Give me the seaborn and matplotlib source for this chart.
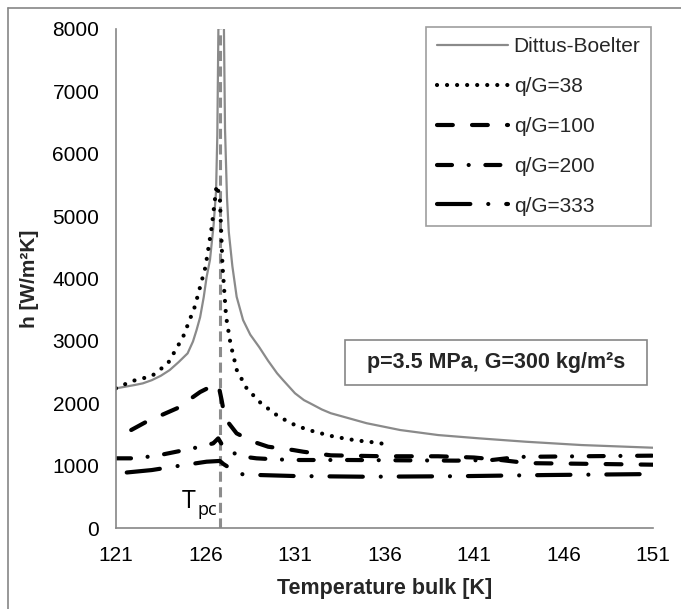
import matplotlib
matplotlib.use("Agg")
import matplotlib.pyplot as plt
from matplotlib.lines import Line2D
from matplotlib.patches import Rectangle
import seaborn as sns
import pandas as pd

# ---------------- data ----------------
db_T = [121.0, 122.0, 122.5, 123.0, 123.5, 124.0, 124.5, 125.0, 125.3, 125.5, 125.7, 125.9,
        126.06, 126.25, 126.45, 126.59, 126.66, 126.72, 126.86,
        127.03, 127.09, 127.2, 127.3, 127.5, 127.74, 128.1, 128.5, 129.0, 129.5, 130.0,
        130.33, 131.0, 131.5, 131.84, 132.5, 133.0, 133.7, 135.0, 136.87, 139.0, 141.3,
        143.9, 147.0, 151.0]
db_h = [2239, 2290, 2319, 2370, 2440, 2532, 2660, 2800, 2990, 3173, 3380, 3700,
        4020, 4300, 4850, 5400, 6300, 8000, 20000,
        8000, 6400, 5300, 4750, 4200, 3707, 3333, 3100, 2900, 2680, 2480,
        2372, 2160, 2050, 2000, 1900, 1840, 1784, 1680, 1571, 1490, 1437,
        1383, 1330, 1287]

q38_T = [121.0, 121.9, 123.0, 123.9, 124.75, 125.4, 126.0, 126.35, 126.62, 126.8, 126.95, 127.15,
         127.4, 127.75, 128.3, 129.1, 130.1, 131.1, 132.1, 133.2, 134.4, 135.6, 136.2]
q38_h = [2240, 2356, 2436, 2639, 3066, 3547, 4188, 4829, 5497, 5310, 4200, 3387,
         2950, 2532, 2239, 2000, 1784, 1635, 1543, 1463, 1405, 1367, 1335]

q100_T = [121.85, 122.7, 124.4, 125.7, 126.25, 126.72, 126.9, 127.09, 127.74, 128.67, 129.5, 130.9,
          131.46, 133.0, 136.0, 139.0, 141.0, 142.5, 144.0, 147.0, 151.0]
q100_h = [1571, 1704, 1918, 2180, 2260, 2300, 2051, 1757, 1517, 1383, 1303, 1250,
          1223, 1165, 1150, 1150, 1130, 1090, 1040, 1030, 1015]

q200_T = [121.0, 122.15, 123.46, 125.3, 126.43, 126.71, 126.9, 127.83, 128.85, 129.88, 131.0,
          134.0, 137.0, 140.0, 142.0, 143.5, 147.0, 151.0]
q200_h = [1117, 1117, 1170, 1277, 1357, 1437, 1346, 1154, 1117, 1101, 1090,
          1090, 1085, 1080, 1090, 1140, 1150, 1160]

q333_T = [121.6, 123.0, 124.2, 126.06, 126.8, 127.0, 127.88, 129.04, 131.0, 135.0, 140.0, 145.0, 151.0]
q333_h = [890, 929, 983, 1063, 1075, 1026, 865, 849, 833, 822, 830, 849, 865]

T_pc = 126.8
x_ticks = [121, 126, 131, 136, 141, 146, 151]
y_ticks = [0, 1000, 2000, 3000, 4000, 5000, 6000, 7000, 8000]

labels = ["Dittus-Boelter", "q/G=38", "q/G=100", "q/G=200", "q/G=333"]

# ---------------- style ----------------
sns.set_theme(style="white")
plt.rcParams['font.family'] = ['Liberation Sans', 'DejaVu Sans']

GRAY = "#868686"
fig = plt.figure(figsize=(6.81, 6.09), dpi=100)
ax = fig.add_axes([116/681, 1-528/609, 537/681, 499/609])

series = [
    (db_T, db_h, dict(color="#8a8a8a", linewidth=1.6, linestyle="-")),
    (q38_T, q38_h, dict(color="black", linewidth=3.0, linestyle=(0, (0.01, 2.4)),
                        dash_capstyle="round")),
    (q100_T, q100_h, dict(color="black", linewidth=3.0, linestyle=(0, (3.8, 4.6)),
                          dash_capstyle="round")),
    (q200_T, q200_h, dict(color="black", linewidth=3.0,
                          linestyle=(0, (3.6, 4.0, 0.01, 4.0)), dash_capstyle="round")),
    (q333_T, q333_h, dict(color="black", linewidth=3.0,
                          linestyle=(0, (8.0, 4.3, 0.01, 4.3)), dash_capstyle="round")),
]

for (T, h, kw), lab in zip(series, labels):
    df = pd.DataFrame({"T": T, "h": h})
    sns.lineplot(data=df, x="T", y="h", ax=ax, sort=False, estimator=None,
                 label=lab, **kw)

# T_pc vertical line
ax.axvline(T_pc, color="#8c8c8c", linewidth=2.2, linestyle=(0, (3.3, 1.8)), zorder=1)
ax.text(124.69, 320, "T", fontsize=18, family=["Open Sans", "DejaVu Sans"],
        ha="left", va="baseline", color="black")
ax.text(125.53, 210, "pc", fontsize=13, family=["Open Sans", "DejaVu Sans"],
        ha="left", va="baseline", color="black")

ax.set_xlim(121, 151)
ax.set_ylim(0, 8000)
ax.set_xticks(x_ticks)
ax.set_yticks(y_ticks)
ax.set_xticklabels([str(v) for v in x_ticks])
ax.set_yticklabels([str(v) for v in y_ticks])

for s in ["top", "right"]:
    ax.spines[s].set_visible(False)
for s in ["left", "bottom"]:
    ax.spines[s].set_color(GRAY)
    ax.spines[s].set_linewidth(1.2)
ax.tick_params(axis="both", which="major", direction="out", length=5, width=1.2,
               color=GRAY, labelsize=15, labelcolor="black")
ax.tick_params(axis="y", pad=7)
ax.tick_params(axis="x", pad=8)

ax.set_xlabel("Temperature bulk [K]", fontsize=15.5, fontweight="bold", labelpad=9)
ax.set_ylabel("h [W/m\u00b2K]", fontsize=15, fontweight="bold", labelpad=10)

leg = ax.legend(loc="upper right", bbox_to_anchor=(0.996, 1.004), borderaxespad=0,
                fontsize=15, handlelength=3.45, handletextpad=0.25, labelspacing=1.0,
                frameon=True, fancybox=False, edgecolor=GRAY, borderpad=0.5)
leg.get_frame().set_linewidth(1.2)
leg.get_frame().set_facecolor("white")

# annotation box
x0, x1 = (345-116)/537, (647-116)/537
y0, y1 = (528-385)/499, (528-340)/499
ax.add_patch(Rectangle((x0, y0), x1-x0, y1-y0, transform=ax.transAxes,
                       facecolor="white", edgecolor=GRAY, linewidth=1.2, zorder=5))
ax.text((x0+x1)/2, (y0+y1)/2, "p=3.5 MPa, G=300 kg/m\u00b2s", transform=ax.transAxes,
        ha="center", va="center", fontsize=15.5, fontweight="bold", zorder=6)

# chart-area border (top and left visible)
fig.add_artist(Line2D([8/681, 1.0], [1-8/609, 1-8/609], color=GRAY, linewidth=1.2))
fig.add_artist(Line2D([8/681, 8/681], [0.0, 1-8/609], color=GRAY, linewidth=1.2))

fig.savefig("out.png", dpi=100, facecolor="white")
